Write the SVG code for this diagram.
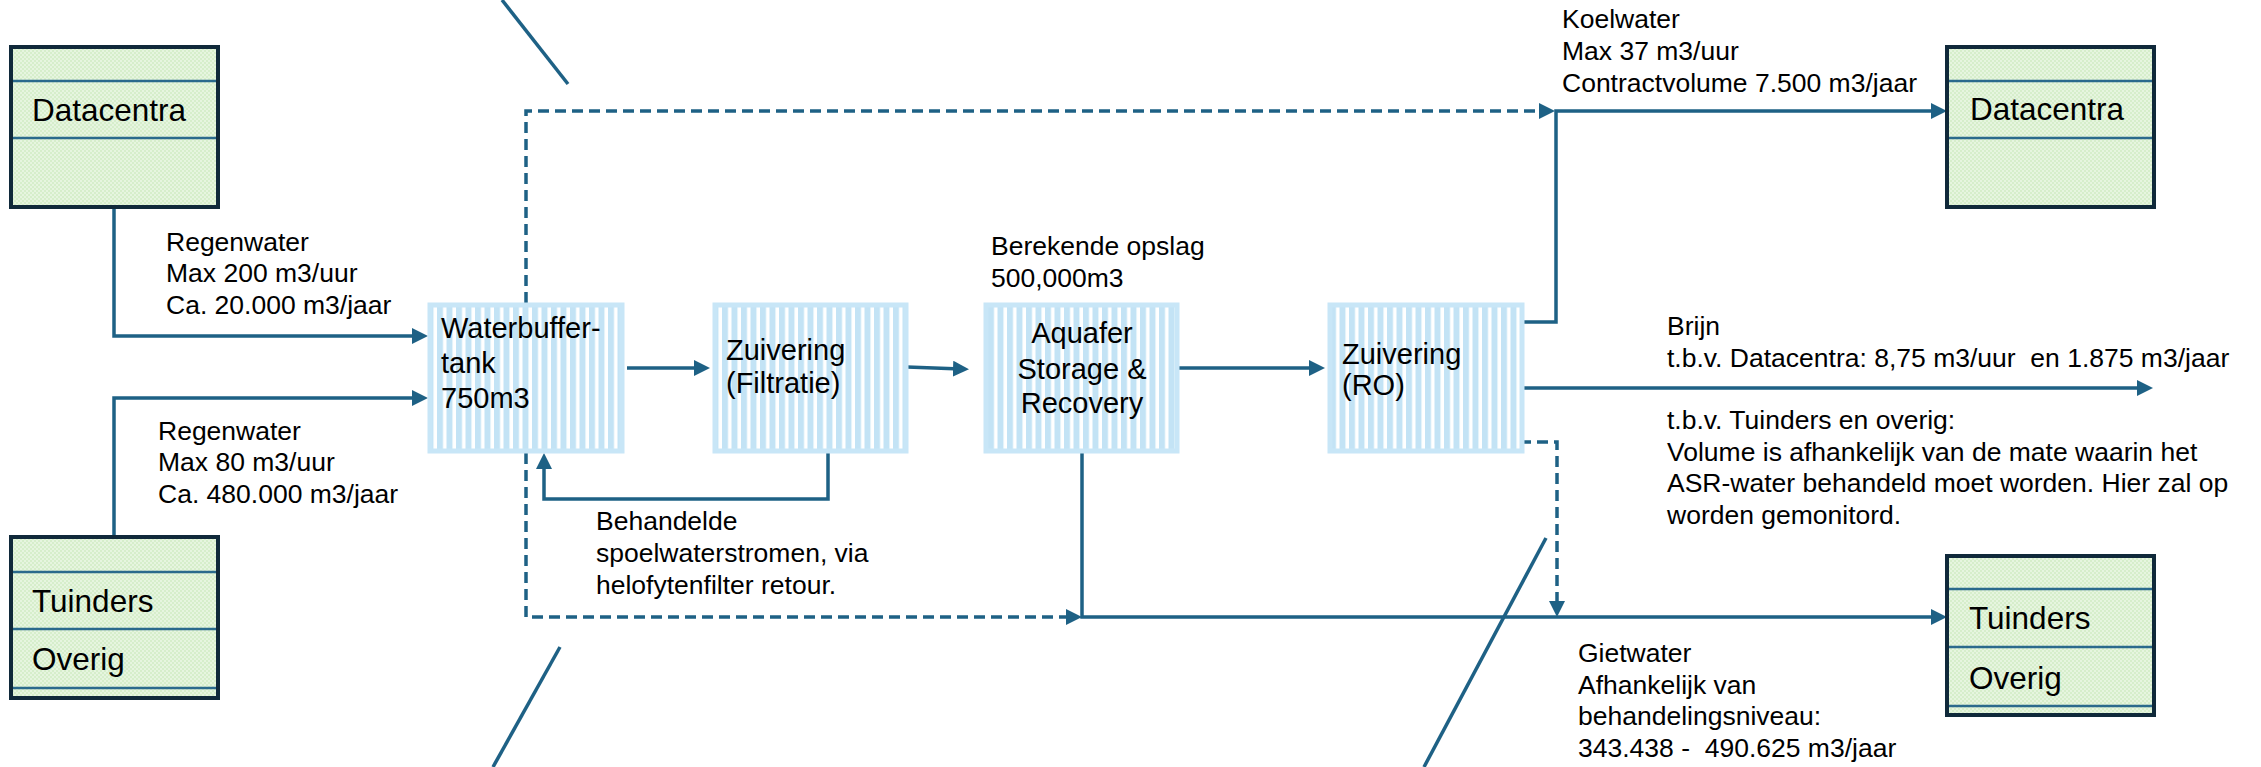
<svg xmlns="http://www.w3.org/2000/svg" width="2261" height="767" viewBox="0 0 2261 767">
<style>
.lbl{font-family:"Liberation Sans",Arial,sans-serif;font-size:26.5px;fill:#000}
.ntx{font-family:"Liberation Sans",Arial,sans-serif;font-size:29px;fill:#000}
.btx{font-family:"Liberation Sans",Arial,sans-serif;font-size:31.5px;fill:#000}
.conn{fill:none;stroke:#1e6185;stroke-width:3.5}
.dash{stroke-dasharray:11 6}
.diag{fill:none;stroke:#1e6185;stroke-width:3.5}
.gbox{fill:url(#check);stroke:#10293a;stroke-width:4}
.gdiv{stroke:#2a6a8c;stroke-width:2.5;fill:none}
.pbox{fill:url(#stripe);stroke:#c8e6f7;stroke-width:5}
</style>
<defs>
<pattern id="check" width="4" height="4" patternUnits="userSpaceOnUse">
<rect width="4" height="4" fill="#d6eecb"/>
<rect width="2" height="2" fill="#e6f5df"/>
<rect x="2" y="2" width="2" height="2" fill="#e6f5df"/>
</pattern>
<pattern id="stripe" width="9.5" height="10" patternUnits="userSpaceOnUse">
<rect width="9.5" height="10" fill="#c3e3f5"/>
<rect x="6" width="3.5" height="10" fill="#ffffff"/>
</pattern>
<marker id="arr" markerUnits="userSpaceOnUse" markerWidth="18" markerHeight="16" refX="8" refY="8" orient="auto">
<path d="M0,0 L16,8 L0,16 z" fill="#1e6185"/>
</marker>
</defs>

<g id="connectors">
<path class="conn" d="M114,207 V336 H420" marker-end="url(#arr)"/>
<path class="conn" d="M114,537 V398 H420" marker-end="url(#arr)"/>
<path class="conn" d="M627,368 H702" marker-end="url(#arr)"/>
<path class="conn" d="M907,367 L961,369" marker-end="url(#arr)"/>
<path class="conn" d="M828,453 V499 H544 V461" marker-end="url(#arr)"/>
<path class="conn" d="M1177,368 H1317" marker-end="url(#arr)"/>
<path class="conn" d="M1082,453 V617 H1939" marker-end="url(#arr)"/>
<path class="conn dash" d="M526,303 V111 H1547" marker-end="url(#arr)"/>
<path class="conn dash" d="M526,453 V617 H1074" marker-end="url(#arr)"/>
<path class="conn" d="M1524,322 H1556 V111 H1939" marker-end="url(#arr)"/>
<path class="conn" d="M1520,388 H2145" marker-end="url(#arr)"/>
<path class="conn dash" d="M1520,442 H1557 V609" marker-end="url(#arr)"/>
</g>

<g id="dividers">
<line class="diag" x1="502" y1="0" x2="568" y2="84"/>
<line class="diag" x1="560" y1="647" x2="493" y2="767"/>
<line class="diag" x1="1546" y1="538" x2="1424" y2="767"/>
</g>

<g id="datacentra-left">
<rect class="gbox" x="11" y="47" width="207" height="160"/>
<line class="gdiv" x1="13" y1="81" x2="216" y2="81"/>
<line class="gdiv" x1="13" y1="138" x2="216" y2="138"/>
<text class="btx" x="32" y="121">Datacentra</text>
</g>

<g id="tuinders-left">
<rect class="gbox" x="11" y="537" width="207" height="161"/>
<line class="gdiv" x1="13" y1="572" x2="216" y2="572"/>
<line class="gdiv" x1="13" y1="629" x2="216" y2="629"/>
<line class="gdiv" x1="13" y1="688" x2="216" y2="688"/>
<text class="btx" x="32" y="612">Tuinders</text>
<text class="btx" x="32" y="670">Overig</text>
</g>

<g id="datacentra-right">
<rect class="gbox" x="1947" y="47" width="207" height="160"/>
<line class="gdiv" x1="1949" y1="81" x2="2152" y2="81"/>
<line class="gdiv" x1="1949" y1="138" x2="2152" y2="138"/>
<text class="btx" x="1970" y="120">Datacentra</text>
</g>

<g id="tuinders-right">
<rect class="gbox" x="1947" y="556" width="207" height="159"/>
<line class="gdiv" x1="1949" y1="589" x2="2152" y2="589"/>
<line class="gdiv" x1="1949" y1="647" x2="2152" y2="647"/>
<line class="gdiv" x1="1949" y1="706" x2="2152" y2="706"/>
<text class="btx" x="1969" y="629">Tuinders</text>
<text class="btx" x="1969" y="689">Overig</text>
</g>

<g id="waterbuffer">
<rect class="pbox" x="430" y="305" width="192" height="146"/>
<text class="ntx" x="441" y="338">Waterbuffer-</text>
<text class="ntx" x="441" y="373">tank</text>
<text class="ntx" x="441" y="408">750m3</text>
</g>

<g id="filtratie">
<rect class="pbox" x="715" y="305" width="191" height="146"/>
<text class="ntx" x="726" y="360">Zuivering</text>
<text class="ntx" x="726" y="393">(Filtratie)</text>
</g>

<g id="aquafer">
<rect class="pbox" x="986" y="305" width="191" height="146"/>
<text class="ntx" x="1082" y="343" text-anchor="middle">Aquafer</text>
<text class="ntx" x="1082" y="379" text-anchor="middle">Storage &amp;</text>
<text class="ntx" x="1082" y="413" text-anchor="middle">Recovery</text>
</g>

<g id="ro">
<rect class="pbox" x="1330" y="305" width="192" height="146"/>
<text class="ntx" x="1342" y="364">Zuivering</text>
<text class="ntx" x="1342" y="395">(RO)</text>
</g>

<g id="labels">
<text class="lbl" x="166" y="251">Regenwater</text>
<text class="lbl" x="166" y="282">Max 200 m3/uur</text>
<text class="lbl" x="166" y="314">Ca. 20.000 m3/jaar</text>

<text class="lbl" x="158" y="440">Regenwater</text>
<text class="lbl" x="158" y="471">Max 80 m3/uur</text>
<text class="lbl" x="158" y="503">Ca. 480.000 m3/jaar</text>

<text class="lbl" x="596" y="530">Behandelde</text>
<text class="lbl" x="596" y="562">spoelwaterstromen, via</text>
<text class="lbl" x="596" y="594">helofytenfilter retour.</text>

<text class="lbl" x="991" y="255">Berekende opslag</text>
<text class="lbl" x="991" y="287">500,000m3</text>

<text class="lbl" x="1562" y="28">Koelwater</text>
<text class="lbl" x="1562" y="60">Max 37 m3/uur</text>
<text class="lbl" x="1562" y="92">Contractvolume 7.500 m3/jaar</text>

<text class="lbl" x="1667" y="335">Brijn</text>
<text class="lbl" x="1667" y="367" xml:space="preserve">t.b.v. Datacentra: 8,75 m3/uur  en 1.875 m3/jaar</text>

<text class="lbl" x="1667" y="429">t.b.v. Tuinders en overig:</text>
<text class="lbl" x="1667" y="461">Volume is afhankelijk van de mate waarin het</text>
<text class="lbl" x="1667" y="492">ASR-water behandeld moet worden. Hier zal op</text>
<text class="lbl" x="1667" y="524">worden gemonitord.</text>

<text class="lbl" x="1578" y="662">Gietwater</text>
<text class="lbl" x="1578" y="694">Afhankelijk van</text>
<text class="lbl" x="1578" y="725">behandelingsniveau:</text>
<text class="lbl" x="1578" y="757" xml:space="preserve">343.438 -  490.625 m3/jaar</text>
</g>
</svg>
